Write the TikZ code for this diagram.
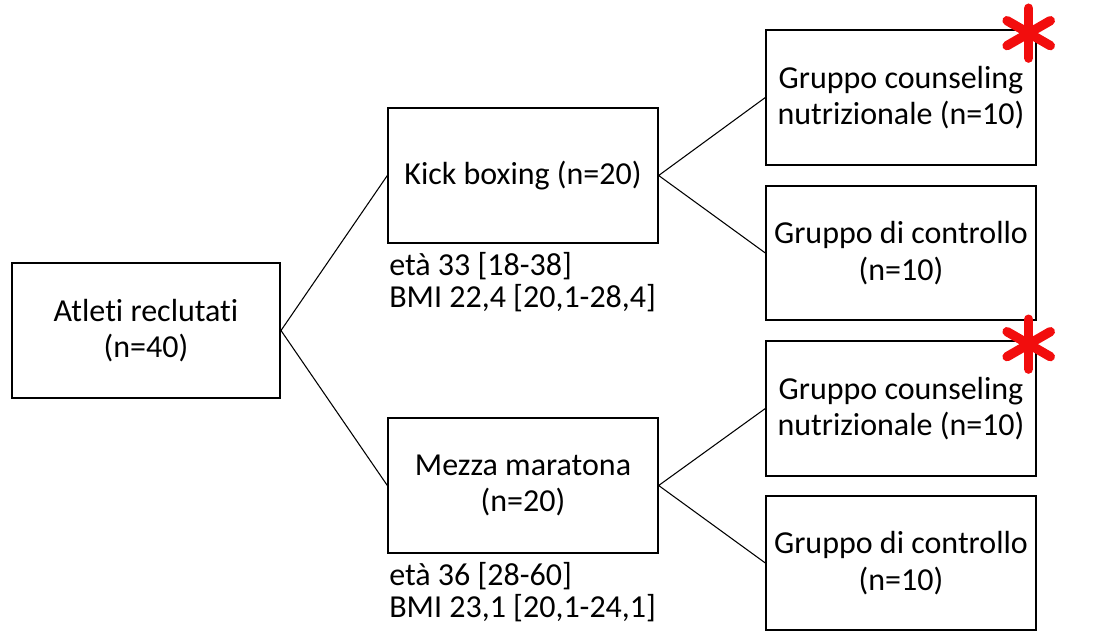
\documentclass[tikz,border=0pt]{standalone}
\usepackage{fontspec}
\setmainfont{Carlito}[Ligatures=NoCommon]
\definecolor{starred}{rgb}{0.95,0.05,0.05}

\begin{document}
\begin{tikzpicture}[x=0.75pt,y=-0.75pt,
    box/.style={draw, line width=1.5pt, align=center, minimum width=202pt, minimum height=101pt, inner sep=2pt, font=\fontsize{24}{27.5}\selectfont},
    info/.style={anchor=north west, align=left, inner sep=0pt, font=\fontsize{24}{24}\selectfont},
    link/.style={line width=0.8pt},
    star/.style={starred, line width=7pt, line cap=round}]
    \useasboundingbox (0,0) rectangle (1104,631);
    \node[box, minimum width=201pt] (atleti) at (146,330.5) {Atleti reclutati\\(n=40)};                  % all
    \node[box] (kick) at (523,175.5) {Kick boxing (n=20)};                                                % group 1
    \node[box] (mezza) at (523,485.5) {Mezza maratona\\(n=20)};                                           % group 2
    \node[info] (kickinfo) at (389,252) {età 33 [18-38]\\BMI 22,4 [20,1-28,4]};
    \node[info] (mezzainfo) at (389,562) {età 36 [28-60]\\BMI 23,1 [20,1-24,1]};
    \node[box] (kickcouns) at (901,97.5) {Gruppo counseling\\nutrizionale (n=10)};
    \node[box] (kickctrl) at (901,253) {Gruppo di controllo\\(n=10)};
    \node[box] (mezzacouns) at (901,408.5) {Gruppo counseling\\nutrizionale (n=10)};
    \node[box] (mezzactrl) at (901,563) {Gruppo di controllo\\(n=10)};
    \draw[link] (kick.west) -- (atleti.east) -- (mezza.west);
    \draw[link] (kickcouns.west) -- (kick.east) -- (kickctrl.west);
    \draw[link] (mezzacouns.west) -- (mezza.east) -- (mezzactrl.west);
    % asterisks
    \foreach \b in {kickcouns,mezzacouns}
        \foreach \a in {90,30,-30}
            \draw[star] ([shift={(-8,4)}]\b.north east) ++(\a:-25) -- ++(\a:50);
\end{tikzpicture}
\end{document}
